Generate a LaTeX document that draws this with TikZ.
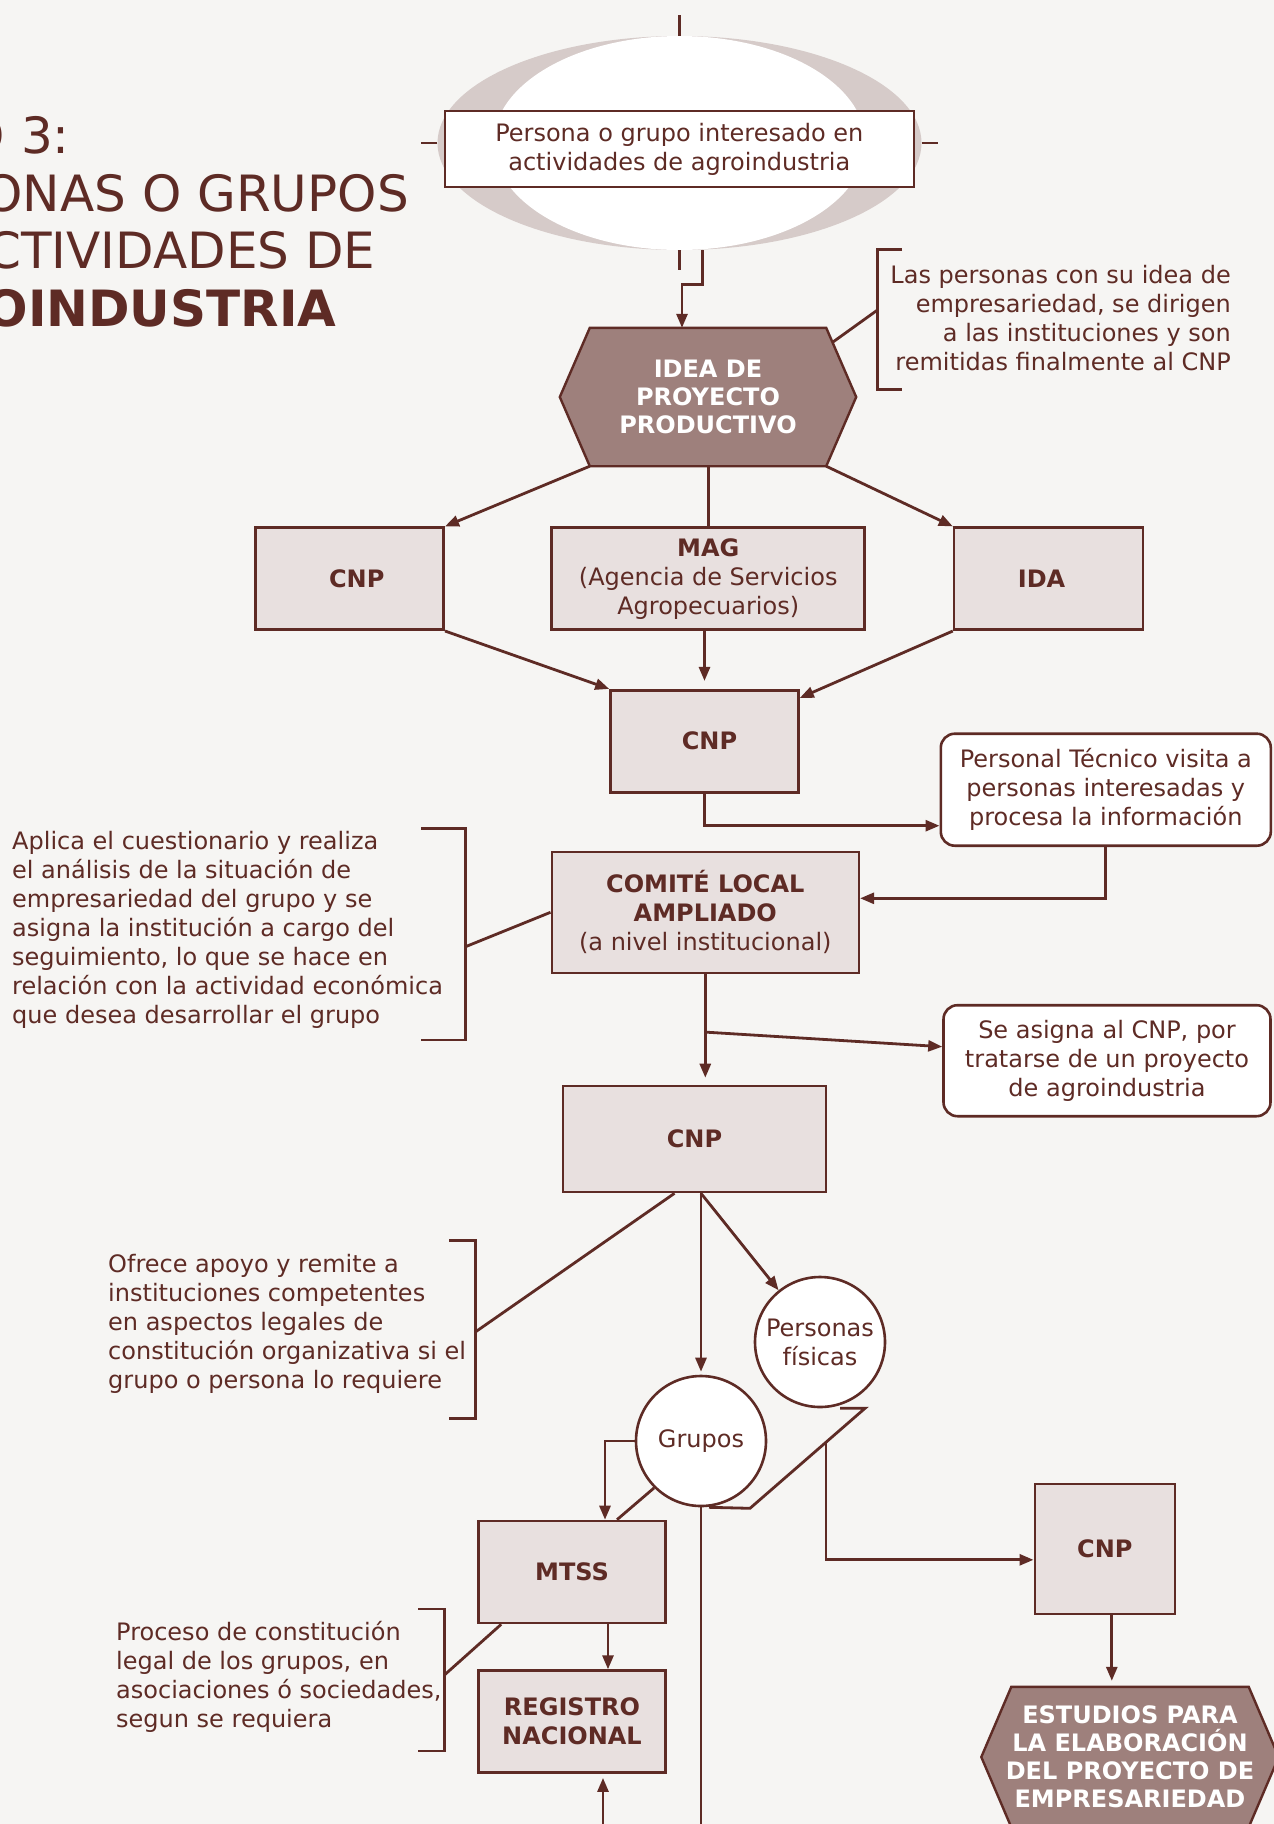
\documentclass[tikz,border=0pt]{standalone}
\usepackage{fontspec}
\setmainfont{DejaVu Sans}
\usetikzlibrary{arrows.meta, calc, shapes.geometric, backgrounds}
\definecolor{brn}{HTML}{5E2B25}
\definecolor{boxfill}{HTML}{E8E0DF}
\definecolor{hexfill}{HTML}{9E807C}
\definecolor{halofill}{HTML}{D6CBC9}
\definecolor{pagebg}{HTML}{F6F5F3}

\begin{document}
\begin{tikzpicture}[x=1pt, y=-1pt, >={Triangle[length=14pt,width=11pt]},
  font=\fontsize{24}{29}\selectfont, text=brn,
  inst/.style={draw=brn, fill=boxfill, line width=2.6pt, inner sep=0pt, align=center, font=\fontsize{24}{29}\selectfont\bfseries},
  startbox/.style={draw=brn, fill=white, line width=2.6pt, inner sep=0pt, align=center},
  notebox/.style={draw=brn, fill=white, rounded corners=14pt, line width=2.6pt, inner sep=0pt, align=center},
  hexnode/.style={inner ysep=0pt, inner xsep=-10pt, align=center, text=white, font=\fontsize{24}{28}\selectfont\bfseries},
  hexshape/.style={draw=brn, fill=hexfill, line width=2.4pt},
  bubble/.style={circle, draw=brn, fill=white, line width=2.6pt, minimum size=130pt, inner sep=0pt, align=center},
  notetext/.style={inner sep=0pt},
  headline/.style={anchor=east, inner sep=0pt, font=\fontsize{50}{60}\selectfont},
  linkline/.style={draw=brn, line width=2.8pt},
  arr/.style={linkline, ->}]
\begin{scope}[on background layer]
  \fill[pagebg] (0,0) rectangle (1274,1824);
\end{scope}
\useasboundingbox (0,0) rectangle (1274,1824);

\node[headline] (titleA) at (70,135) {O 3:};
\node[headline] (titleB) at (409,193.3) {ONAS O GRUPOS};
\node[headline] (titleC) at (375.5,250) {CTIVIDADES DE};
\node[headline, font=\fontsize{50}{60}\selectfont\bfseries] (titleD) at (336.7,308.3) {OINDUSTRIA};

\node[ellipse, fill=halofill, minimum width=484pt, minimum height=214pt, inner sep=0pt] (glow) at (679.5,143) {};
\node[ellipse, fill=white, minimum width=372pt, minimum height=214pt, inner sep=0pt] (halo) at (679.5,143) {};
\node[startbox, minimum width=469pt, minimum height=76pt] (start) at (679.3,149) {Persona o grupo interesado en\\actividades de agroindustria};

\node[hexnode, minimum width=236pt, minimum height=138pt] (idea) at (708,397) {IDEA DE\\PROYECTO\\PRODUCTIVO};
\node[hexnode, minimum width=237pt, minimum height=140pt] (estudios) at (1130,1757) {ESTUDIOS PARA\\LA ELABORACIÓN\\DEL PROYECTO DE\\EMPRESARIEDAD};
\begin{scope}[on background layer]
  \foreach \h in {idea,estudios}
    \draw[hexshape] (\h.north west) -- (\h.north east) -- ([xshift=30pt]\h.east) -- (\h.south east) -- (\h.south west) -- ([xshift=-30pt]\h.west) -- cycle;
\end{scope}

\node[inst, minimum width=188pt, minimum height=102pt] (cnpA) at (349.7,578.7) {\hspace{14pt}CNP};
\node[inst, font=\fontsize{24}{29}\selectfont, minimum width=313pt, minimum height=102pt] (mag) at (708.2,578.7) {\textbf{MAG}\\(Agencia de Servicios\\Agropecuarios)};
\node[inst, minimum width=189pt, minimum height=102pt] (ida) at (1048.6,578.7) {IDA\hspace{14pt}};
\node[inst, minimum width=188pt, minimum height=102pt] (cnpB) at (704.5,741.2) {\hspace{10pt}CNP};
\node[notebox, minimum width=330pt, minimum height=112pt] (visita) at (1105.8,789.7) {Personal Técnico visita a\\personas interesadas y\\procesa la información};
\node[inst, font=\fontsize{24}{29}\selectfont, minimum width=307pt, minimum height=121pt] (comite) at (705.3,912.3) {\textbf{COMITÉ LOCAL}\\\textbf{AMPLIADO}\\(a nivel institucional)};
\node[notebox, minimum width=327pt, minimum height=111pt] (asigna) at (1107,1060.7) {Se asigna al CNP, por\\tratarse de un proyecto\\de agroindustria};
\node[inst, minimum width=263pt, minimum height=106pt] (cnpC) at (694.5,1139) {CNP};
\node[bubble] (pers) at (820,1342) {Personas\\físicas};
\node[bubble] (grupos) at (701,1441) {Grupos};
\node[inst, minimum width=187pt, minimum height=102pt] (mtss) at (572,1572) {MTSS};
\node[inst, minimum width=187pt, minimum height=102pt] (registro) at (572,1721.6) {REGISTRO\\NACIONAL};
\node[inst, minimum width=140pt, minimum height=130pt] (cnpD) at (1104.8,1548.8) {CNP};

\node[notetext, anchor=east, align=right] (noteIdea) at (1231,318) {Las personas con su idea de\\empresariedad, se dirigen\\a las instituciones y son\\remitidas finalmente al CNP};
\node[notetext, anchor=west, align=left] (noteComite) at (12,930.3) {Aplica el cuestionario y realiza\\el análisis de la situación de\\empresariedad del grupo y se\\asigna la institución a cargo del\\seguimiento, lo que se hace en\\relación con la actividad económica\\que desea desarrollar el grupo};
\node[notetext, anchor=west, align=left] (noteApoyo) at (108,1323.5) {Ofrece apoyo y remite a\\instituciones competentes\\en aspectos legales de\\constitución organizativa si el\\grupo o persona lo requiere};
\node[notetext, anchor=west, align=left] (noteLegal) at (116,1677) {Proceso de constitución\\legal de los grupos, en\\asociaciones ó sociedades,\\segun se requiera};

\coordinate (brIdea) at (877.5,310);
\coordinate (brComite) at (465.5,946.7);
\coordinate (brApoyo) at (475.3,1332);
\coordinate (brLegal) at (444.4,1675);
\coordinate (floorIn) at (603,1824);
\path ([xshift=7pt]cnpD.south) coordinate (cnpDout);

\draw[linkline] (halo.north) -- ++(0,-21);
\draw[linkline] (halo.south) -- ++(0,20);
\draw[linkline] (glow.west) -- ++(-16,0);
\draw[linkline] (glow.east) -- ++(16,0);
\draw[arr] ([xshift=23pt]halo.south) -- ++(0,34) -| ([xshift=-26pt]idea.north);

\draw[linkline] (902,249.3) -- (877.5,249.3) -- (877.5,389.3) -- (902,389.3);
\draw[linkline] (brIdea) -- ($(idea.north east)!0.21!([xshift=30pt]idea.east)$);
\draw[linkline] (421,828.3) -- (465.5,828.3) -- (465.5,1040) -- (421,1040);
\draw[linkline] (brComite) -- (comite.west);
\draw[linkline] (449.3,1240.8) -- (475.3,1240.8) -- (475.3,1418.2) -- (449.3,1418.2);
\draw[linkline] (brApoyo) -- ([xshift=-20pt]cnpC.south);
\draw[linkline] (418.4,1609) -- (444.4,1609) -- (444.4,1751) -- (418.4,1751);
\draw[linkline] (brLegal) -- ([xshift=24pt]mtss.south west);

\draw[arr] (idea.south west) -- (cnpA.north east);
\draw[linkline] (idea.south -| mag.north) -- (mag.north);
\draw[arr] (idea.south east) -- (ida.north west);
\draw[arr] (cnpA.south east) -- (cnpB.north west);
\draw[arr, shorten >=8pt] (mag.south -| cnpB.north) -- (cnpB.north);
\draw[arr] (ida.south west) -- ([yshift=-9pt]cnpB.north east);
\draw[arr] (cnpB.south) |- ([yshift=-36pt]visita.west);
\draw[arr] (visita.south) |- ([yshift=14pt]comite.east);
\draw[arr, shorten >=7pt] (comite.south) -- (comite.south |- cnpC.north);
\draw[arr] ([yshift=-58pt]comite.south) -- ([yshift=14pt]asigna.west);
\draw[arr, shorten >=3pt] (cnpC.south -| grupos.north) -- (grupos.north);
\draw[arr] (cnpC.south -| grupos.north) -- (pers);
\draw[linkline] ([xshift=20pt]pers.south) -- ++(25,0) -- coordinate[pos=0.34] (tailpt) ++(-115,100) -- ([xshift=8pt]grupos.south);
\draw[arr] (tailpt) |- ([yshift=-11pt]cnpD.west);
\draw[arr] (grupos.west) -| ([xshift=33pt]mtss.north);
\draw[linkline] (grupos.south west) -- ([xshift=45pt]mtss.north);
\draw[linkline] (grupos.south) -- (grupos.south |- floorIn);
\draw[arr] ([xshift=36pt]mtss.south) -- ([xshift=36pt]registro.north);
\draw[arr, shorten >=4pt] (floorIn) -- (floorIn |- registro.south);
\draw[arr, shorten >=6pt] (cnpDout) -- (cnpDout |- estudios.north);
\end{tikzpicture}
\end{document}
